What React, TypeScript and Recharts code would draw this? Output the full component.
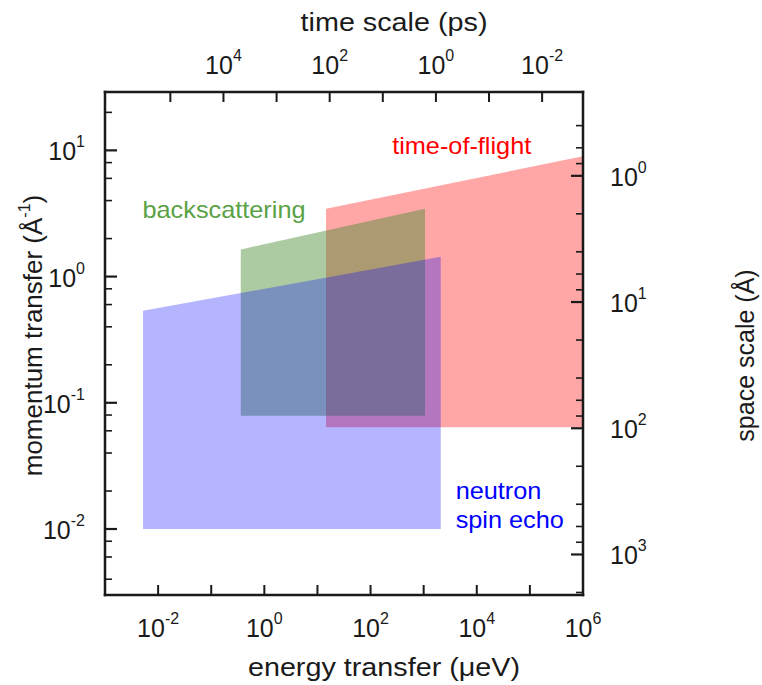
import { ComposedChart, Area, XAxis, YAxis, ReferenceDot, Label } from 'recharts'

const FONT = "'Liberation Sans', Arial, Helvetica, sans-serif"
const INK = '#1a1a1a'

// energy transfer (µeV) and momentum transfer (Å^-1), both log
const E_RANGE = [1e-3, 1e6]
const Q_RANGE = [0.003, 29]
const TIME_X_ENERGY = 1700 // ps·µeV, how the top time axis sits over the energy axis

const E_TICKS = [1e-2, 1e-1, 1, 10, 100, 1e3, 1e4, 1e5, 1e6]
const T_EXPONENTS = [5, 4, 3, 2, 1, 0, -1, -2]
const Q_TICKS = [0.004, 0.006, 0.008, 0.01, 0.02, 0.04, 0.06, 0.08, 0.1, 0.2, 0.4, 0.6, 0.8, 1, 2, 4, 6, 8, 10, 20]
const D_TICKS = [0.4, 0.6, 0.8, 1, 2, 4, 6, 8, 10, 20, 40, 60, 80, 100, 200, 400, 600, 800, 1000, 2000]

// instrument windows: energy at left/right edge, top Q at those edges, bottom Q
const tofEnergy = [14.5, 1.5e6]
const tofQTop = [3.44, 9.3]
const tofQBottom = 0.064

const bsEnergy = [0.36, 1060]
const bsQTop = [1.64, 3.44]
const bsQBottom = 0.079

const nseEnergy = [0.0052, 2100]
const nseQTop = [0.536, 1.436]
const nseQBottom = 0.01

// where the instrument names sit (energy, Q)
const TOF_NAME_AT = [5200, 11.0]
const BS_NAME_AT = [0.174, 3.43]
const NSE_NAME_AT = [4000, 0.0203]

const toRows = (energy: number[], top: number[], bottom: number) =>
  energy.map((e, i) => ({ e, q: [bottom, top[i]] }))

const tofData = toRows(tofEnergy, tofQTop, tofQBottom)
const bsData = toRows(bsEnergy, bsQTop, bsQBottom)
const nseData = toRows(nseEnergy, nseQTop, nseQBottom)

// top axis ticks placed on the energy scale, t = const / E
const T_TICKS_AS_E = T_EXPONENTS.map((n) => TIME_X_ENERGY / Math.pow(10, n))
const D_RANGE = [(2 * Math.PI) / Q_RANGE[1], (2 * Math.PI) / Q_RANGE[0]]

const expOf = (v: number) => Math.round(Math.log10(v))
const isDecade = (v: number) => Math.abs(Math.log10(v) - expOf(v)) < 1e-6

function Pow({ x, y, exp, anchor = 'middle' }: any) {
  return (
    <text x={x} y={y} textAnchor={anchor} dominantBaseline="central" fontSize={25} fontFamily={FONT} fill={INK}>
      10<tspan dy={-10} fontSize={16}>{exp}</tspan>
    </text>
  )
}

function BottomTick({ x, y, payload }: any) {
  const exp = expOf(payload.value)
  return (
    <g>
      <line x1={x} y1={y} x2={x} y2={y - 10} stroke={INK} strokeWidth={2} />
      {exp % 2 === 0 && <Pow x={x} y={y + 33} exp={exp} />}
    </g>
  )
}

function TopTick({ x, y, payload }: any) {
  const exp = expOf(TIME_X_ENERGY / payload.value)
  return (
    <g>
      <line x1={x} y1={y} x2={x} y2={y + 10} stroke={INK} strokeWidth={2} />
      {exp % 2 === 0 && <Pow x={x} y={y - 27} exp={exp} />}
    </g>
  )
}

function LeftTick({ x, y, payload }: any) {
  const major = isDecade(payload.value)
  return (
    <g>
      <line x1={x} y1={y} x2={x + (major ? 12 : 7)} y2={y} stroke={INK} strokeWidth={major ? 2.2 : 1.6} />
      {major && <Pow x={x - 20} y={y + 1} exp={expOf(payload.value)} anchor="end" />}
    </g>
  )
}

function RightTick({ x, y, payload }: any) {
  const major = isDecade(payload.value)
  return (
    <g>
      <line x1={x} y1={y} x2={x - (major ? 12 : 7)} y2={y} stroke={INK} strokeWidth={major ? 2.2 : 1.6} />
      {major && <Pow x={x + 27} y={y + 1} exp={expOf(payload.value)} anchor="start" />}
    </g>
  )
}

function Title({ x, y, rotate, size = 25, sx = 1.15, children }: any) {
  const spin = rotate ? ` rotate(${rotate})` : ''
  return (
    <text
      transform={`translate(${x},${y}) scale(${sx},1)${spin}`}
      textAnchor="middle"
      dominantBaseline="central"
      fontSize={size}
      fontFamily={FONT}
      fill={INK}
    >
      {children}
    </text>
  )
}

function Name({ cx, cy, color, lines, anchor = 'middle' }: any) {
  return (
    <text
      transform={`translate(${cx},${cy}) scale(1.1,1)`}
      textAnchor={anchor}
      dominantBaseline="central"
      fontSize={23}
      fontFamily={FONT}
      fill={color}
    >
      {lines.map((s: string, i: number) => (
        <tspan key={s} x={0} dy={i === 0 ? 0 : 29}>
          {s}
        </tspan>
      ))}
    </text>
  )
}

const axisLine = { stroke: INK, strokeWidth: 2.5, strokeLinecap: 'square' as const }

export default function App() {
  return (
    <div style={{ position: 'absolute', left: 0, top: 0, background: '#fff' }}>
      <ComposedChart width={762} height={685} margin={{ top: 52, right: 99, bottom: 50, left: 45 }}>
        <XAxis
          xAxisId="e"
          dataKey="e"
          type="number"
          scale="log"
          domain={E_RANGE}
          allowDataOverflow
          ticks={E_TICKS}
          interval={0}
          tick={(p: any) => <BottomTick {...p} />}
          tickLine={false}
          tickSize={0}
          tickMargin={0}
          axisLine={axisLine}
          height={40}
          label={
            <Label
              content={({ viewBox }: any) => (
                <Title x={viewBox.x + viewBox.width / 2 + 40} y={viewBox.y + 73}>
                  energy transfer (μeV)
                </Title>
              )}
            />
          }
        />
        <XAxis
          xAxisId="t"
          dataKey="e"
          orientation="top"
          type="number"
          scale="log"
          domain={E_RANGE}
          allowDataOverflow
          ticks={T_TICKS_AS_E}
          interval={0}
          tick={(p: any) => <TopTick {...p} />}
          tickLine={false}
          tickSize={0}
          tickMargin={0}
          axisLine={axisLine}
          height={40}
          label={
            <Label
              content={({ viewBox }: any) => (
                <Title x={viewBox.x + viewBox.width / 2 + 50} y={viewBox.y - 29}>
                  time scale (ps)
                </Title>
              )}
            />
          }
        />
        <YAxis
          yAxisId="q"
          type="number"
          scale="log"
          domain={Q_RANGE}
          allowDataOverflow
          ticks={Q_TICKS}
          interval={0}
          tick={(p: any) => <LeftTick {...p} />}
          tickLine={false}
          tickSize={0}
          tickMargin={0}
          axisLine={axisLine}
          width={60}
          label={
            <Label
              content={({ viewBox }: any) => (
                <Title x={viewBox.x - 12} y={viewBox.y + viewBox.height / 2 - 8} rotate={-90} size={26} sx={1}>
                  momentum transfer (Å<tspan dy={-9} fontSize={16}>-1</tspan>
                  <tspan dy={9}>)</tspan>
                </Title>
              )}
            />
          }
        />
        <YAxis
          yAxisId="d"
          orientation="right"
          type="number"
          scale="log"
          domain={D_RANGE}
          allowDataOverflow
          reversed
          ticks={D_TICKS}
          interval={0}
          tick={(p: any) => <RightTick {...p} />}
          tickLine={false}
          tickSize={0}
          tickMargin={0}
          axisLine={axisLine}
          width={80}
          label={
            <Label
              content={({ viewBox }: any) => (
                <Title x={viewBox.x + 162} y={viewBox.y + viewBox.height / 2 + 12} rotate={-90} size={25} sx={1}>
                  space scale (Å)
                </Title>
              )}
            />
          }
        />

        {/* time-of-flight is placed via the top axis, which shares the energy scale */}
        <Area
          xAxisId="t"
          yAxisId="q"
          data={tofData}
          dataKey="q"
          type="linear"
          stroke="none"
          fill="#ff0000"
          fillOpacity={0.35}
          dot={false}
          activeDot={false}
          isAnimationActive={false}
        />
        <Area
          xAxisId="e"
          yAxisId="q"
          data={bsData}
          dataKey="q"
          type="linear"
          stroke="none"
          fill="#468c32"
          fillOpacity={0.45}
          dot={false}
          activeDot={false}
          isAnimationActive={false}
        />
        <Area
          xAxisId="e"
          yAxisId="q"
          data={nseData}
          dataKey="q"
          type="linear"
          stroke="none"
          fill="#0000ff"
          fillOpacity={0.29}
          dot={false}
          activeDot={false}
          isAnimationActive={false}
        />

        <ReferenceDot
          xAxisId="e"
          yAxisId="q"
          x={TOF_NAME_AT[0]}
          y={TOF_NAME_AT[1]}
          r={0}
          shape={(p: any) => <Name cx={p.cx} cy={p.cy} color="#ff0000" lines={['time-of-flight']} />}
        />
        <ReferenceDot
          xAxisId="e"
          yAxisId="q"
          x={BS_NAME_AT[0]}
          y={BS_NAME_AT[1]}
          r={0}
          shape={(p: any) => <Name cx={p.cx} cy={p.cy} color="#5aa246" lines={['backscattering']} />}
        />
        <ReferenceDot
          xAxisId="e"
          yAxisId="q"
          x={NSE_NAME_AT[0]}
          y={NSE_NAME_AT[1]}
          r={0}
          shape={(p: any) => (
            <Name cx={p.cx} cy={p.cy} color="#0000ff" anchor="start" lines={['neutron', 'spin echo']} />
          )}
        />
      </ComposedChart>
    </div>
  )
}
